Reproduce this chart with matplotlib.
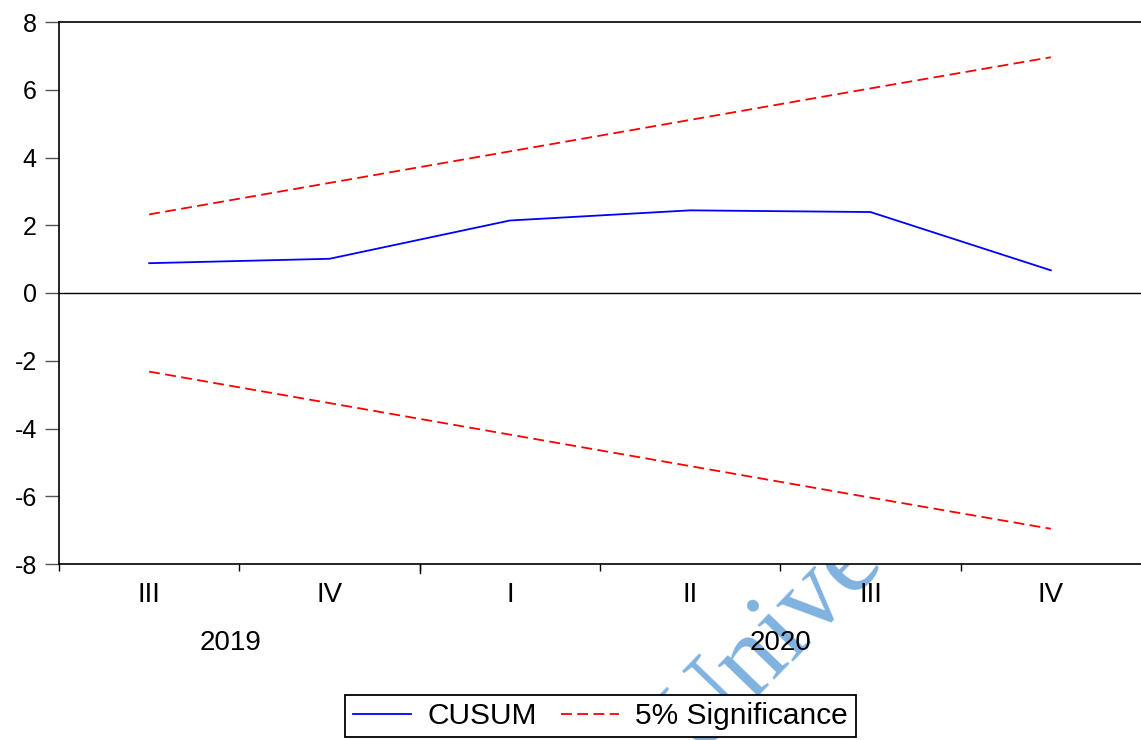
import numpy as np
import matplotlib
matplotlib.use("Agg")
import matplotlib.pyplot as plt
from matplotlib.lines import Line2D
from matplotlib.transforms import blended_transform_factory

plt.rcParams['font.family'] = ['Liberation Sans', 'DejaVu Sans']
plt.rcParams['axes.unicode_minus'] = False

# Quarterly observations
quarters = ['III', 'IV', 'I', 'II', 'III', 'IV']
years = ['2019', '2020']
year_centers = [0.45, 3.5]
cusum = [0.88, 1.01, 2.14, 2.44, 2.39, 0.67]
upper_5pct = [2.32, 3.25, 4.18, 5.11, 6.04, 6.96]
lower_5pct = [-2.32, -3.25, -4.18, -5.11, -6.04, -6.96]
y_ticks = [-8, -6, -4, -2, 0, 2, 4, 6, 8]

W, H = 1141, 740
fig = plt.figure(figsize=(W / 100, H / 100), dpi=100)
fig.patch.set_facecolor('white')

# Light watermark behind the plot
fig.text(697 / W, 1 - 758 / H, 'University', fontsize=80,
         family=['Liberation Serif', 'DejaVu Serif'], color='#80b2e0',
         rotation=46, rotation_mode='anchor', ha='left', va='baseline',
         zorder=-5)

ax = fig.add_axes([59 / W, 1 - 564 / H, (W - 59) / W, (564 - 22) / H])
ax.set_facecolor('white')

x = np.arange(len(quarters))
dash = (0, (6, 3))
ax.plot(x, cusum, color='#0000ff', lw=1.3, zorder=3)
ax.plot(x, upper_5pct, color='#ff0000', lw=1.3, ls=dash, zorder=3)
ax.plot(x, lower_5pct, color='#ff0000', lw=1.3, ls=dash, zorder=3)
ax.axhline(0, color='black', lw=1.0, zorder=2)

ax.set_xlim(-0.5, len(quarters) - 0.5)
ax.set_ylim(-8, 8)

for s in ['left', 'bottom', 'top']:
    ax.spines[s].set_linewidth(1.2)
    ax.spines[s].set_color('black')
ax.spines['right'].set_visible(False)

# y axis
ax.set_yticks(y_ticks)
ax.set_yticklabels([str(v) for v in y_ticks])
ax.tick_params(axis='y', direction='out', length=10, width=1.0,
               color='#555555', pad=6, labelsize=18, right=False)

# x axis: boundary ticks between quarters, labels at quarter centres
bounds = np.arange(-0.5, len(quarters) - 0.5, 1.0)
ax.set_xticks(bounds)
ax.set_xticklabels([''] * len(bounds))
ax.tick_params(axis='x', which='major', direction='out', length=5,
               width=1.0, color='black')
ax.set_xticks(x, minor=True)
ax.set_xticklabels(quarters, minor=True)
ax.tick_params(axis='x', which='minor', length=0, pad=13, labelsize=20)
# longer tick at the year boundary
trans = blended_transform_factory(ax.transData, ax.transAxes)
ax.plot([1.5, 1.5], [0, -0.016], color='black', lw=1.0, transform=trans,
        clip_on=False)

for yr, xc in zip(years, year_centers):
    ax.text(xc, -0.146, yr, transform=trans, ha='center', va='center',
            fontsize=20)

handles = [Line2D([], [], color='#0000ff', lw=1.3),
           Line2D([], [], color='#ff0000', lw=1.3, ls=dash)]
leg = fig.legend(handles, ['CUSUM', '5% Significance'], ncol=2,
                 loc='center', bbox_to_anchor=((332 + 869) / 2 / W, 1 - 716 / H),
                 fontsize=21.5, frameon=True, fancybox=False, framealpha=1,
                 edgecolor='black', handlelength=1.95, handletextpad=0.55,
                 columnspacing=0.8, borderpad=0.25, borderaxespad=0)
leg.get_frame().set_linewidth(1.3)
leg.set_zorder(10)

fig.savefig('out.png', dpi=100, facecolor='white')
